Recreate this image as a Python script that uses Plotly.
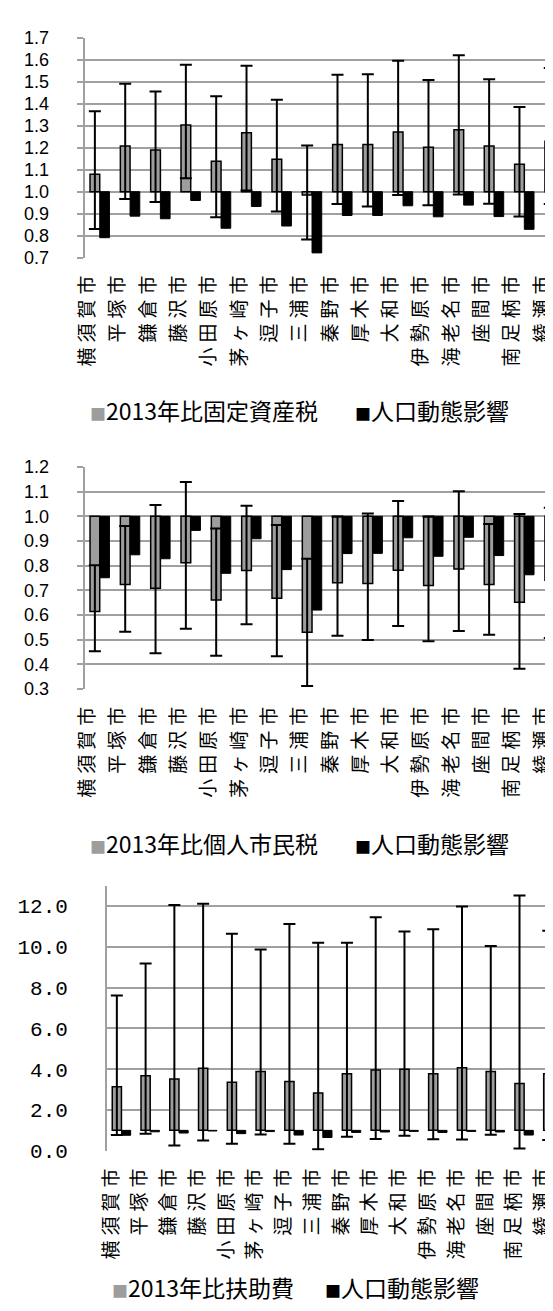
import plotly.graph_objects as go

# ---------------- data ----------------
cities = ["横須賀市", "平塚市", "鎌倉市", "藤沢市", "小田原市", "茅ヶ崎市", "逗子市", "三浦市",
          "秦野市", "厚木市", "大和市", "伊勢原市", "海老名市", "座間市", "南足柄市", "綾瀬市"]

# Panel 1: 固定資産税
prop_tax = [1.079, 1.208, 1.190, 1.303, 1.138, 1.268, 1.147, 0.985,
            1.214, 1.214, 1.271, 1.202, 1.281, 1.208, 1.125, 1.229]
prop_tax_hi = [1.366, 1.490, 1.455, 1.577, 1.434, 1.572, 1.418, 1.210,
               1.531, 1.534, 1.595, 1.508, 1.620, 1.511, 1.385, 1.562]
prop_tax_lo = [0.831, 0.967, 0.953, 1.061, 0.884, 1.005, 0.910, 0.783,
               0.944, 0.933, 0.985, 0.938, 0.987, 0.945, 0.887, 0.944]
prop_pop = [0.791, 0.889, 0.877, 0.960, 0.834, 0.933, 0.844, 0.722,
            0.892, 0.892, 0.936, 0.886, 0.939, 0.887, 0.829, 0.902]

# Panel 2: 個人市民税
res_tax = [0.614, 0.724, 0.708, 0.812, 0.661, 0.780, 0.668, 0.530,
           0.731, 0.728, 0.781, 0.720, 0.786, 0.724, 0.652, 0.741]
res_tax_hi = [0.802, 0.961, 1.046, 1.139, 0.951, 1.043, 0.965, 0.828,
              0.998, 1.011, 1.062, 0.998, 1.102, 0.969, 1.009, 1.035]
res_tax_lo = [0.453, 0.532, 0.445, 0.544, 0.435, 0.563, 0.433, 0.312,
              0.516, 0.499, 0.555, 0.494, 0.535, 0.520, 0.382, 0.507]
res_pop = [0.751, 0.844, 0.828, 0.943, 0.769, 0.909, 0.784, 0.620,
           0.849, 0.850, 0.913, 0.838, 0.915, 0.841, 0.763, 0.864]

# Panel 3: 扶助費
welfare = [3.14, 3.68, 3.52, 4.05, 3.36, 3.89, 3.39, 2.83,
           3.78, 3.96, 4.00, 3.78, 4.07, 3.88, 3.30, 3.78]
welfare_hi = [7.61, 9.18, 12.05, 12.10, 10.63, 9.86, 11.11, 10.20,
              10.20, 11.44, 10.74, 10.86, 11.97, 10.04, 12.51, 10.78]
welfare_lo = [0.77, 0.84, 0.26, 0.50, 0.34, 0.80, 0.34, 0.08,
              0.69, 0.58, 0.74, 0.56, 0.55, 0.79, 0.11, 0.53]
welfare_pop = [0.76, 0.93, 0.87, 0.97, 0.84, 0.94, 0.77, 0.65,
               0.90, 0.92, 0.95, 0.90, 0.95, 0.92, 0.77, 0.91]

series_names = ["2013年比固定資産税", "2013年比個人市民税", "2013年比扶助費"]
pop_name = "人口動態影響"
base_value = 1.0

# ---------------- styling ----------------
W, H = 553, 1311
GRAY_FILL = "#9d9d9d"
GRID = "#a0a0a0"
JP_FONT = "Noto Sans CJK JP"
# Excel-style spaced vertical category labels (text itself unchanged)
city_ticktext = [f"<span style='letter-spacing:5px'>{c}</span>" for c in cities]

panels = [
    dict(vals=prop_tax, hi=prop_tax_hi, lo=prop_tax_lo, pop=prop_pop,
         top=20, bottom=244, left=66, band=31.0, yr=[0.7, 1.7], dtick=0.1,
         tfont=dict(family="Liberation Sans", size=18, color="black"), standoff=24,
         ticks="outside", legend_y=399, leg_x1=69, leg_x2=340, lshift=-12),
    dict(vals=res_tax, hi=res_tax_hi, lo=res_tax_lo, pop=res_pop,
         top=457, bottom=683, left=66, band=31.0, yr=[0.3, 1.2], dtick=0.1,
         tfont=dict(family="Liberation Sans", size=18, color="black"), standoff=24,
         ticks="outside", legend_y=840, leg_x1=69, leg_x2=340, lshift=-12),
    dict(vals=welfare, hi=welfare_hi, lo=welfare_lo, pop=welfare_pop,
         top=883, bottom=1153, left=89, band=29.4, yr=[0, 13], dtick=2,
         tfont=dict(family="Liberation Mono", size=21, color="black"), standoff=33,
         ticks="", legend_y=1292, leg_x1=92, leg_x2=310, lshift=-10),
]

fig = go.Figure()
n = len(cities)
layout = dict(width=W, height=H, margin=dict(l=0, r=0, t=0, b=0),
              paper_bgcolor="white", plot_bgcolor="white",
              barmode="group", bargap=0.36, bargroupgap=0.0, showlegend=False)
annotations = []

for k, p in enumerate(panels):
    idx = "" if k == 0 else str(k + 1)
    xname, yname = "x" + idx, "y" + idx
    d0 = 1 - p["bottom"] / H
    d1 = 1 - p["top"] / H
    xr = [-0.5, -0.5 + (W - p["left"]) / p["band"]]
    xd = [p["left"] / W, 1.0]

    fig.add_trace(go.Bar(
        x=cities, y=[v - base_value for v in p["vals"]], base=base_value,
        name=series_names[k], xaxis=xname, yaxis=yname,
        marker=dict(color=GRAY_FILL, line=dict(color="black", width=1.5)),
        error_y=dict(type="data", symmetric=False,
                     array=[h - v for h, v in zip(p["hi"], p["vals"])],
                     arrayminus=[v - l for v, l in zip(p["vals"], p["lo"])],
                     color="black", thickness=2, width=6),
    ))
    fig.add_trace(go.Bar(
        x=cities, y=[v - base_value for v in p["pop"]], base=base_value,
        name=pop_name, xaxis=xname, yaxis=yname,
        marker=dict(color="black", line=dict(color="black", width=1)),
    ))

    layout["xaxis" + idx] = dict(
        domain=xd, anchor=yname, type="category", range=xr,
        tickmode="array", tickvals=cities, ticktext=city_ticktext,
        showgrid=False, showline=False, ticks="", tickangle=-90,
        tickfont=dict(family=JP_FONT, size=19, color="black"),
        ticklabelstandoff=8, ticklabelshift=p["lshift"],
    )
    layout["yaxis" + idx] = dict(
        domain=[d0, d1], anchor=xname, range=p["yr"], dtick=p["dtick"], tick0=0,
        tickformat=".1f", showgrid=True, gridcolor=GRID, gridwidth=2,
        zeroline=False, showline=True, linecolor=GRID, linewidth=2,
        ticks=p["ticks"], ticklen=6, tickcolor=GRID, tickwidth=2,
        tickfont=p["tfont"], ticklabelstandoff=p["standoff"],
    )
    # overlay axis: category-boundary tick marks along the 1.0 baseline
    pos = d0 + (base_value - p["yr"][0]) / (p["yr"][1] - p["yr"][0]) * (d1 - d0)
    layout["xaxis" + str(k + 4)] = dict(
        overlaying=xname, anchor="free", position=pos, type="linear", range=xr,
        showgrid=False, zeroline=False, showline=True, linecolor=GRID, linewidth=2,
        ticks="outside", ticklen=6, tickwidth=2, tickcolor=GRID,
        tickvals=[i + 0.5 for i in range(n - 1)], showticklabels=False,
    )
    # legend (drawn as text, Excel style: small square directly before the label)
    ly = 1 - p["legend_y"] / H
    annotations.append(dict(
        xref="paper", yref="paper", x=p["leg_x1"] / W, y=ly, xanchor="left", yanchor="middle",
        showarrow=False, font=dict(family=JP_FONT, size=23, color="black"),
        text=f"<span style='color:{GRAY_FILL};font-size:16px'>■</span>{series_names[k]}",
    ))
    annotations.append(dict(
        xref="paper", yref="paper", x=p["leg_x2"] / W, y=ly, xanchor="left", yanchor="middle",
        showarrow=False, font=dict(family=JP_FONT, size=23, color="black"),
        text=f"<span style='color:black;font-size:16px'>■</span>{pop_name}",
    ))

layout["annotations"] = annotations
fig.update_layout(**layout)
fig.write_html("out.html")
